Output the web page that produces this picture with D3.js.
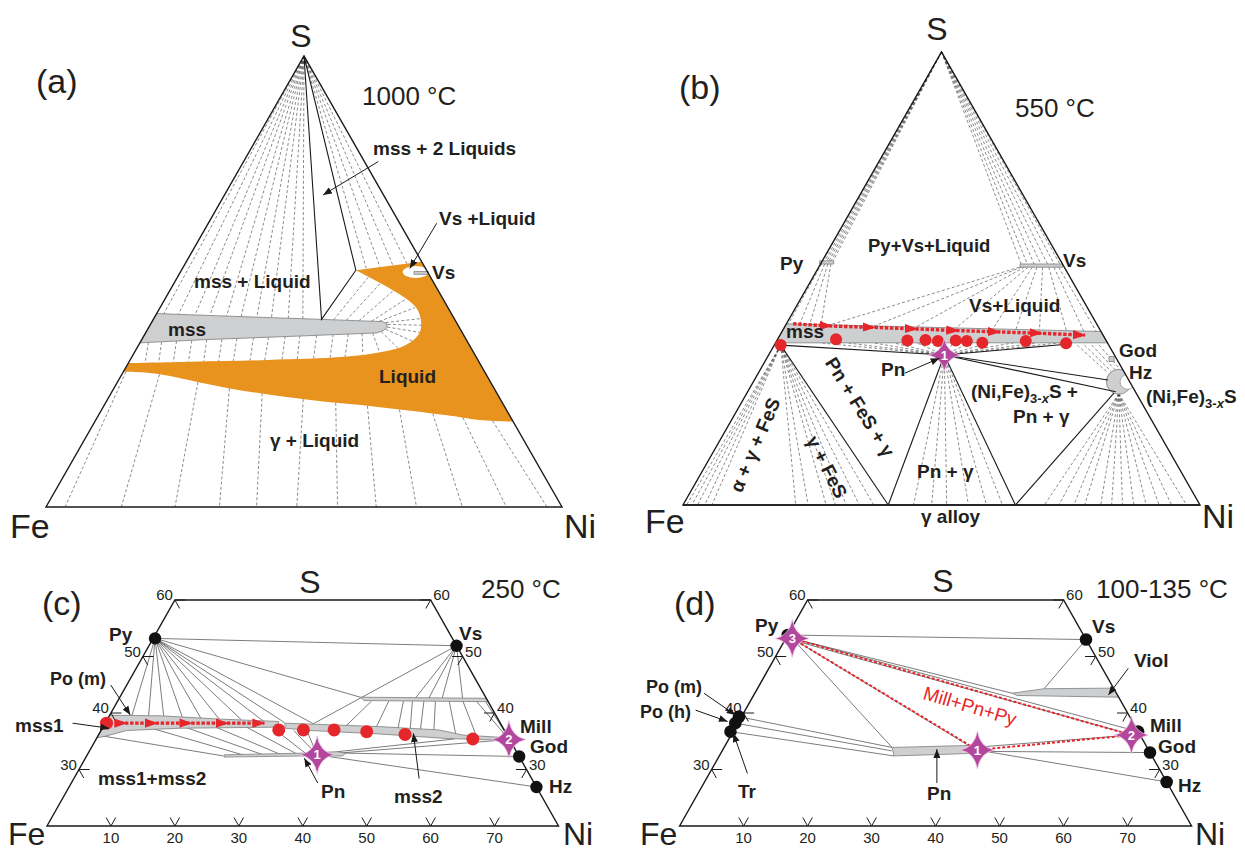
<!DOCTYPE html>
<html>
<head>
<meta charset="utf-8">
<title>Fe–Ni–S phase relations</title>
<script src="https://cdn.jsdelivr.net/npm/d3@7/dist/d3.min.js"></script>
<style>
  html, body { margin: 0; padding: 0; background: #fff; }
  svg { display: block; font-family: "Liberation Sans", Arial, Helvetica, sans-serif; }
  .outline { fill: none; stroke: #1a1a1a; stroke-width: 1.4; }
  .dash { stroke: #3c3c3c; stroke-width: 0.6; stroke-dasharray: 3 2.2; fill: none; }
  .solid { stroke: #1a1a1a; stroke-width: 1.1; fill: none; }
  .tie { stroke: #505050; stroke-width: 0.75; }
  .band { fill: #cecfd1; stroke: #7d7d7d; stroke-width: 0.8; }
  .ann { stroke: #1a1a1a; stroke-width: 1; marker-end: url(#ah); }
  .tickmark { stroke: #1a1a1a; stroke-width: 1; fill: none; }
  .lbl { font-weight: 700; font-size: 19px; fill: #231f20; }
  .corner { font-size: 34px; fill: #231f20; }
  .ptag { font-size: 34px; fill: #231f20; }
  .temp { font-size: 26px; fill: #231f20; }
  .ticklbl { font-size: 15px; fill: #231f20; }
</style>
</head>
<body>
<svg id="fig" width="1245" height="853" viewBox="0 0 1245 853"></svg>
<script>
// All compositions are [Ni at.%, S at.%]; Fe is the remainder.

// ---------------- (a) 1000 °C ----------------
const aMss = [[0,42.9],[12,42.4],[32.6,41.6],[44.7,41.1],[45.8,40.6],[46.2,39.8],[45.8,39.1],[44.8,38.6],[30,37.9],[12,37.1],[0,36.4]];
const aLiquidTop = [[33.8,52.5],[45.5,54.4]];
const aLiquidOuter = [[81.1,18.9],[74.3,19.3],[67.2,20.4],[53.2,22.2],[39.4,23.7],[22.4,26.3],[6.3,29.6],[0,30.0]];
const aLiquidInner = [[0,31.9],[12.1,32.2],[26.7,32.6],[41.2,33.3],[48.1,34.4],[51.8,35.9],[53.1,38.5],[51.9,41.5],[49.4,44.4],[44.5,47.4],[38.6,50.3],[33.8,52.5]];
const aVsField = [45.6,52.1];
const aVsBar = [[45.2,52.2],[48.0,52.2],[48.3,51.6],[45.5,51.6]];
const aThreePhase = [[0,100],[32.6,41.6],[33.8,52.5]];
const aApexToMss = [[1.4,42.8],[4.3,42.7],[7.6,42.6],[10.5,42.5],[13.8,42.4],[16.7,42.2],[19.8,42.1],[22.7,42.0],[26.0,41.9],[28.9,41.75]];
const aApexToLiquid = [[35.7,52.8],[38.2,53.1],[40.6,53.4],[43.0,53.9]];
// liquid [Ni, S] -> gamma alloy Ni on the Fe–Ni join
const aLiquidToAlloy = [[0.5,30.0,3.7],[7.3,29.4,14.6],[15.6,27.7,25.0],[22.4,26.3,33.6],[29.3,25.2,40.8],[37.9,23.9,48.6],[44.6,23.1,56.5],[51.1,22.4,64.0],[57.7,21.6,71.8],[64.6,20.7,80.7],[70.9,19.8,89.2],[77.0,19.1,97.1]];
const aMssToLiquid = [
  [[1.6,36.5],[3.2,32.0]],[[4.1,36.6],[5.8,32.1]],[[6.9,36.8],[8.6,32.1]],[[9.8,36.9],[11.5,32.2]],
  [[12.6,37.1],[14.4,32.3]],[[15.5,37.2],[17.3,32.3]],[[18.3,37.4],[20.1,32.4]],[[21.4,37.6],[23.3,32.5]],
  [[24.3,37.7],[26.1,32.6]],[[27.4,37.9],[29.4,32.7]],[[30.2,38.0],[32.3,32.8]],[[33.4,38.1],[35.4,32.9]],
  [[36.5,38.3],[38.5,33.1]],[[39.4,38.35],[41.3,33.3]],
  [[42.0,38.5],[44.5,33.8]],[[44.0,38.6],[47.5,34.3]],[[45.5,38.9],[50.5,35.3]],[[46.1,39.4],[52.6,36.8]],
  [[46.2,39.9],[53.1,38.7]],[[46.0,40.5],[52.6,40.3]],[[45.4,40.9],[51.9,41.8]],
  [[35.0,41.5],[37.0,51.0]],[[37.5,41.4],[40.0,49.6]],[[40.0,41.3],[43.3,47.9]],[[42.5,41.2],[46.6,46.0]],[[44.0,41.15],[49.4,44.2]]
];
const aPointers = [[[26.1,76.6],[19.1,69.2]],[[44.25,62.9],[44.05,52.9]]];

// ---------------- (b) 550 °C ----------------
const bMss = [[0,40.0],[61.7,38.3],[64.2,35.8],[0,35.8]];
const bPy = [[-0.5,53.9],[2.2,53.9],[2.55,53.2],[-0.15,53.2]];
const bVs = [[38.6,53.2],[46.8,53.2],[47.15,52.5],[38.95,52.5]];
const bGod = [66.8,32.2];
const bCrescent = [70.7,27.2];
const bCrescentHole = [72.4,27.2];
const bFeS = [1.25,35.3];
const bPn = [34.0,33.1];
const bMssDots = [[1.25,35.3],[11.3,36.6],[25.25,36.3],[28.7,36.4],[31.2,36.2],[34.6,36.3],[36.8,36.2],[40.0,35.8],[48.2,36.2],[56.25,35.7]];
const bMssTrend = [[1.3,40.0],[9.0,39.5],[17.5,39.2],[25.8,38.85],[34.0,38.5],[42.2,38.2],[50.45,37.9],[59.0,37.5]];
const bBoundaries = [
  [[1.25,35.3],[34.0,33.1]],[[1.25,35.3],[39.7,0]],[[34.0,33.1],[39.7,0]],[[34.0,33.1],[64.3,0]],
  [[34.0,33.1],[56.4,35.5]],[[34.0,33.1],[68.4,27.6]],[[34.0,33.1],[71.2,25.0]],[[64.3,0],[71.0,24.7]]
];
const bFeSToAlloy = [0.7,1.7,2.8,4.2,5.6,21.8,24.2,27.7,29.5,31.6,34.1,36.9];
const bPnToAlloy = [44.6,48.1,51.0,55.2,58.7,61.8];
const bPnToMss = [[8.6,35.8],[13.8,35.8],[18.9,35.8],[22.8,35.8],[27.3,35.8],[31.2,35.8],[34.4,35.8],[37.6,35.8],[41.5,35.8],[46.0,35.8],[50.5,35.8],[55.0,35.8]];
const bCrescentToAlloy = [69.9,72.7,75.6,77.7,80.8,82.9,85.0,87.2,89.6,92.1,94.5,97.4];
const bCrescentFoot = [72.0,24.6];
const bApexToPy = [[0.1,53.9],[0.5,53.9],[0.9,53.9],[1.3,53.9],[1.7,53.9],[2.1,53.9]];
const bApexToVs = [[38.8,53.2],[40.0,53.2],[41.3,53.2],[42.6,53.2],[43.9,53.2],[45.2,53.2],[46.3,53.2]];
const bPyToMss = [[[0.2,53.2],[0.4,39.9]],[[0.8,53.2],[2.6,39.9]],[[1.4,53.2],[4.6,39.8]],[[2.0,53.2],[6.8,39.8]]];
const bVsToMss = [
  [[38.8,52.5],[8.6,39.8]],[[39.2,52.5],[17.2,39.5]],[[39.8,52.5],[25.45,39.3]],[[40.5,52.5],[33.3,39.1]],
  [[41.3,52.5],[40.5,38.9]],[[42.2,52.5],[45.0,38.8]],[[43.3,52.5],[49.65,38.6]],[[44.5,52.5],[54.9,38.5]],
  [[45.5,52.5],[58.3,38.4]],[[46.4,52.5],[60.8,38.3]]
];
const bMssToCrescent = [[[58.6,35.3],[67.7,29.1]],[[60.0,35.3],[68.2,29.4]],[[61.4,35.3],[68.75,29.8]],[[62.85,35.3],[69.25,30.2]]];
const bPointers = [[[28.35,29.1],[33.4,32.4]]];

// ---------------- (c) 250 °C ----------------
const cNiTicks = [10,20,30,40,50,60,70];
const cSTicks = [30,40,50,60];
const cMss1 = [[0,39.6],[8,39.5],[18,38.9],[27,38.5],[27.2,37.5],[12,37.3],[4,36.9],[1.2,35.9],[0,35.6]];
const cMss2 = [[28.1,38.2],[43.0,37.6],[52.8,37.0],[57.0,36.1],[63.0,35.7],[63.2,35.2],[54.6,35.5],[43.7,36.3],[32.8,36.9],[28.6,37.3]];
const cPnBand = [[21.4,32.6],[33.9,32.9],[38.8,33.15],[40.3,32.9],[40.0,32.4],[33.9,32.4],[21.6,32.2]];
const cVsBand = [[37.6,42.8],[57.4,42.6],[58.0,42.0],[38.5,42.2]];
const cMinerals = [[0.3,53.2],[48.1,51.9],[64.2,35.8],[67.7,32.3],[73.1,26.9]]; // Py, Vs, Mill, God, Hz
const cMssDots = [[0.2,38.2],[27.75,37.0],[31.6,37.0],[36.4,37.0],[41.65,36.7],[47.9,36.2],[58.9,35.4]];
const cMssTrend = [[1.5,38.2],[3.3,38.2],[8.1,38.2],[13.5,38.2],[19.2,38.2],[24.9,38.2]];
const cStars = [[35.95,32.6,"1"],[64.6,35.3,"2"]];
const cTies = [
  [[0.3,53.2],[48.1,51.9]],[[0.3,53.2],[37.6,42.8]],
  [[0.3,53.2],[3.5,39.6]],[[0.3,53.2],[6.1,39.6]],[[0.3,53.2],[8.5,39.5]],[[0.3,53.2],[11.5,39.3]],
  [[0.3,53.2],[14.5,39.1]],[[0.3,53.2],[17.5,38.9]],[[0.3,53.2],[21.0,38.8]],[[0.3,53.2],[24.5,38.6]],
  [[0.3,53.2],[28.0,38.3]],[[0.3,53.2],[32.6,38.1]],
  [[48.1,51.9],[32.6,38.1]],[[48.1,51.9],[46.3,42.6]],[[48.1,51.9],[48.4,42.6]],[[48.1,51.9],[50.5,42.6]],[[48.1,51.9],[53.7,42.6]],
  [[39.7,42.1],[37.9,37.7]],[[42.4,42.1],[42.75,37.5]],[[44.7,42.1],[46.25,37.3]],[[46.1,42.1],[48.25,37.1]],
  [[47.9,42.1],[49.9,37.0]],[[49.7,42.1],[52.1,36.8]],[[51.85,42.1],[55.7,36.4]],[[54.0,42.1],[59.05,36.1]],
  [[56.1,42.1],[64.0,35.8]],[[57.5,42.1],[64.4,35.6]],
  [[0.9,35.9],[21.4,32.4]],[[7.7,37.3],[24.3,32.6]],[[12.85,37.5],[27.5,32.6]],[[17.65,37.5],[30.1,32.7]],
  [[22.45,37.5],[32.7,32.75]],[[26.75,37.3],[33.95,32.9]],
  [[30.15,36.9],[35.95,32.6]],[[32.35,36.7],[35.95,32.6]],
  [[38.8,33.15],[56.0,35.4]],[[35.95,32.6],[64.6,35.3]],[[40.3,32.9],[67.7,32.3]],[[35.95,32.6],[73.1,26.9]]
];
const cPointers = [[[-2.5,44.95],[3.2,39.65]],[[-5.1,38.2],[1.05,37.3]],[[38.55,27.6],[34.25,32.0]],[[54.0,28.4],[49.1,36.4]]];

// ---------------- (d) 100-135 °C ----------------
const dNiTicks = [10,20,30,40,50,60,70];
const dSTicks = [30,40,50,60];
const dMinerals = [[0,53.8],[47.0,53.0],[63.3,36.7],[67.0,33.0],[72.2,27.8],[-0.4,39.35],[-0.4,38.2],[-0.4,36.7]]; // Py, Vs, Mill, God, Hz, Po(m), Po(h), Tr
const dViol = [[40.2,43.5],[44.8,44.3],[55.6,44.4],[57.2,42.8],[41.2,43.1]];
const dPnBand = [[26.25,33.9],[36.15,34.2],[40.05,34.3],[40.75,32.9],[27.3,32.4]];
const dStars = [[1.0,53.2,"3"],[62.55,36.1,"2"],[39.8,33.45,"1"]];
const dAssemblage = [[[1.0,53.2],[62.55,36.1]],[[1.0,53.2],[39.8,33.45]],[[39.8,33.45],[62.55,36.1]]];
const dTies = [
  [[0,53.8],[47.0,53.0]],[[1.0,53.2],[40.2,43.5]],[[1.0,53.2],[63.3,36.7]],[[1.2,52.9],[62.0,36.3]],
  [[47.0,53.0],[44.8,44.3]],
  [[-0.4,39.35],[26.25,33.9]],[[-0.4,38.2],[26.5,33.3]],[[-0.4,36.7],[27.3,32.4]],
  [[40.75,33.2],[67.0,33.0]],[[39.8,33.45],[72.2,27.8]],[[40.05,34.0],[62.55,36.1]],
  [[1.0,53.2],[38.5,34.0]],[[1.0,53.2],[26.25,33.9]]
];
const dPointers = [[[-7.95,43.5],[-1.1,39.65]],[[-7.75,40.5],[-1.75,38.5]],[[5.95,29.3],[0.2,36.4]],[[36.4,27.6],[33.4,33.6]],[[56.15,47.9],[55.4,43.2]]];

// ---------------- colours ----------------
const ORANGE = "#e9931f", RED = "#e5262a", MAGENTA = "#b3479d", GREY = "#cecfd1";

// ---------------- ternary frames ----------------
function ternary(uDom, xRange, sDom, yRange) {
  const xs = d3.scaleLinear().domain(uDom).range(xRange);
  const ys = d3.scaleLinear().domain(sDom).range(yRange);
  return { xs, ys, p: d => [xs(d[0] + d[1] / 2), ys(d[1])] };
}
const TA = ternary([0,100],[46,562],[0,100],[507,56]);
const TB = ternary([0,100],[683,1200],[0,100],[505,52]);
const TC = ternary([10,90],[47,558.5],[20,60],[826,600]);
const TD = ternary([10,90],[679.6,1191.6],[20,60],[826,600]);

const svg = d3.select("#fig");
const defs = svg.append("defs");
defs.append("marker").attr("id","ah").attr("viewBox","0 -4 10 8").attr("refX",10).attr("refY",0)
  .attr("markerUnits","userSpaceOnUse").attr("markerWidth",9).attr("markerHeight",7).attr("orient","auto")
  .append("path").attr("d","M0,-4L10,0L0,4Z").attr("fill","#1a1a1a");
defs.append("marker").attr("id","rah").attr("viewBox","0 -5 13 10").attr("refX",12).attr("refY",0)
  .attr("markerUnits","userSpaceOnUse").attr("markerWidth",13).attr("markerHeight",10).attr("orient","auto")
  .append("path").attr("d","M0,-4.6L13,0L0,4.6Z").attr("fill",RED);

const lineOf = T => d3.line().x(d => T.p(d)[0]).y(d => T.p(d)[1]);

function segs(g, T, list, cls) {
  return g.append("g").selectAll("line").data(list).join("line")
    .attr("class", cls)
    .attr("x1", d => T.p(d[0])[0]).attr("y1", d => T.p(d[0])[1])
    .attr("x2", d => T.p(d[1])[0]).attr("y2", d => T.p(d[1])[1]);
}
function poly(g, T, pts, cls) {
  return g.append("path").attr("class", cls).attr("d", lineOf(T).curve(d3.curveLinearClosed)(pts));
}
function dots(g, T, pts, r, fill) {
  g.append("g").selectAll("circle").data(pts).join("circle")
    .attr("cx", d => T.p(d)[0]).attr("cy", d => T.p(d)[1]).attr("r", r).attr("fill", fill);
}
function stars(g, T, list, w, h) {
  const rx = w / 2, ry = h / 2, k = 2.8;
  const shape = `M0,${-ry}Q${k},${-k} ${rx},0Q${k},${k} 0,${ry}Q${-k},${k} ${-rx},0Q${-k},${-k} 0,${-ry}Z`;
  const s = g.append("g").selectAll("g").data(list).join("g")
    .attr("transform", d => `translate(${T.p(d)[0]},${T.p(d)[1]})`);
  s.append("path").attr("d", shape).attr("fill", MAGENTA).attr("stroke", "#ecc6e4").attr("stroke-width", 0.8);
  s.append("text").attr("y", 4.6).attr("text-anchor", "middle").attr("fill", "#fff")
    .style("font-size", "13px").style("font-weight", 700).text(d => d[2]);
}
function trend(g, T, pts) {
  g.append("path").attr("d", lineOf(T)(pts)).attr("fill", "none")
    .attr("stroke", RED).attr("stroke-width", 3.4).attr("stroke-dasharray", "3.4 1.7")
    .attr("marker-mid", "url(#rah)").attr("marker-end", "url(#rah)");
}
function text(g, x, y, str, cls, opt = {}) {
  const t = g.append("text").attr("x", x).attr("y", y).attr("class", cls).text(str);
  if (opt.anchor) t.attr("text-anchor", opt.anchor);
  if (opt.rotate !== undefined) t.attr("transform", `rotate(${opt.rotate},${x},${y})`).attr("dy", "0.35em");
  if (opt.size) t.style("font-size", opt.size + "px");
  if (opt.fill) t.style("fill", opt.fill);
  if (opt.weight) t.style("font-weight", opt.weight);
  return t;
}
function nife(g, x, y, tail) {
  const t = g.append("text").attr("x", x).attr("y", y).attr("class", "lbl");
  t.append("tspan").text("(Ni,Fe)");
  t.append("tspan").attr("dy", 5).style("font-size", "13px").text("3-");
  t.append("tspan").style("font-size", "13px").style("font-style", "italic").text("x");
  t.append("tspan").attr("dy", -5).text("S" + tail);
}
function ticks(g, T, niTicks, sTicks) {
  const L = 1.5, list = [];
  niTicks.forEach(n => { list.push([[n,20],[n - L,20 + L]]); list.push([[n,20],[n,20 + L]]); });
  sTicks.forEach(s => {
    list.push([[0,s],[1.65,s]]); list.push([[0,s],[L,s - L]]);
    list.push([[100 - s,s],[100 - s - 1.65,s]]); list.push([[100 - s,s],[100 - s,s - L]]);
  });
  segs(g, T, list, "tickmark");
  g.append("g").selectAll("text").data(niTicks).join("text").attr("class", "ticklbl")
    .attr("text-anchor", "middle").attr("x", n => T.p([n,20])[0]).attr("y", T.ys(20) + 17).text(n => n);
  g.append("g").selectAll("text").data(sTicks).join("text").attr("class", "ticklbl")
    .attr("text-anchor", "end").attr("x", s => T.p([0,s])[0] - 2).attr("y", s => T.ys(s)).text(s => s);
  g.append("g").selectAll("text").data(sTicks).join("text").attr("class", "ticklbl")
    .attr("x", s => T.p([100 - s,s])[0] + 2.5).attr("y", s => T.ys(s)).text(s => s);
}

// ================= (a) =================
{
  const T = TA, g = svg.append("g");
  segs(g, T, aApexToMss.map(d => [[0,100], d]), "dash");
  segs(g, T, aApexToLiquid.map(d => [[0,100], d]), "dash");
  segs(g, T, aLiquidToAlloy.map(d => [[d[0], d[1]], [d[2], 0]]), "dash");
  segs(g, T, aMssToLiquid, "dash");

  const smooth = lineOf(T).curve(d3.curveCatmullRom.alpha(0.5));
  const liq = lineOf(T)([aLiquidTop[0], aLiquidTop[1], aLiquidOuter[0]])
    + smooth(aLiquidOuter).replace(/^M/, "L")
    + smooth(aLiquidInner).replace(/^M/, "L") + "Z";
  g.append("path").attr("d", liq).attr("fill", ORANGE);
  const vs = T.p(aVsField);
  g.append("ellipse").attr("cx", vs[0]).attr("cy", vs[1]).attr("rx", 13).attr("ry", 6).attr("fill", "#fff");
  poly(g, T, aVsBar, "band");
  poly(g, T, aMss, "band").attr("stroke-width", 0.6);
  poly(g, T, aThreePhase, "solid");
  poly(g, T, [[0,0],[100,0],[0,100]], "outline");
  segs(g, T, aPointers, "ann");

  text(g, 301, 47, "S", "corner", {anchor: "middle", size: 32});
  text(g, 36, 93, "(a)", "ptag");
  text(g, 362, 105, "1000 °C", "temp");
  text(g, 373, 155, "mss + 2 Liquids", "lbl");
  text(g, 439, 225, "Vs +Liquid", "lbl");
  text(g, 432, 279, "Vs", "lbl");
  text(g, 194, 288, "mss + Liquid", "lbl");
  text(g, 168, 336, "mss", "lbl");
  text(g, 379, 383, "Liquid", "lbl");
  text(g, 270, 447, "γ  + Liquid", "lbl");
  text(g, 10, 538, "Fe", "corner");
  text(g, 564, 538, "Ni", "corner");
}

// ================= (b) =================
{
  const T = TB, g = svg.append("g");
  const clipId = "clipB";
  g.append("clipPath").attr("id", clipId).append("path")
    .attr("d", lineOf(T).curve(d3.curveLinearClosed)([[0,0],[100,0],[0,100]]));

  segs(g, T, bApexToPy.map(d => [[0,100], d]), "dash");
  segs(g, T, bApexToVs.map(d => [[0,100], d]), "dash");
  segs(g, T, bPyToMss, "dash");
  segs(g, T, bVsToMss, "dash");
  segs(g, T, bFeSToAlloy.map(n => [bFeS, [n,0]]), "dash");
  segs(g, T, bPnToAlloy.map(n => [bPn, [n,0]]), "dash");
  segs(g, T, bPnToMss.map(d => [bPn, d]), "dash");
  segs(g, T, bCrescentToAlloy.map(n => [bCrescentFoot, [n,0]]), "dash");
  segs(g, T, bMssToCrescent, "dash");

  poly(g, T, bMss, "band");
  poly(g, T, bPy, "band");
  poly(g, T, bVs, "band");
  const gd = T.p(bGod);
  g.append("rect").attr("x", gd[0] - 2.5).attr("y", gd[1] - 2.5).attr("width", 5).attr("height", 5).attr("class", "band");
  const cr = g.append("g").attr("clip-path", `url(#${clipId})`);
  const c0 = T.p(bCrescent), c1 = T.p(bCrescentHole);
  cr.append("circle").attr("cx", c0[0]).attr("cy", c0[1]).attr("r", 12.5).attr("fill", GREY).attr("stroke", "#7d7d7d").attr("stroke-width", 0.8);
  cr.append("circle").attr("cx", c1[0]).attr("cy", c1[1]).attr("r", 7.5).attr("fill", "#fff").attr("stroke", "#7d7d7d").attr("stroke-width", 0.6);

  segs(g, T, bBoundaries, "solid");
  poly(g, T, [[0,0],[100,0],[0,100]], "outline");
  segs(g, T, [[[0,0],[100,0]]], "outline").attr("stroke-width", 3.2);

  dots(g, T, bMssDots, 6, RED);
  trend(g, T, bMssTrend);
  stars(g, T, [[bPn[0], bPn[1], "1"]], 32, 32);
  segs(g, T, bPointers, "ann");

  text(g, 937, 40, "S", "corner", {anchor: "middle", size: 32});
  text(g, 679, 99, "(b)", "ptag");
  text(g, 1015, 117, "550 °C", "temp");
  text(g, 868, 252, "Py+Vs+Liquid", "lbl", {size: 18.5});
  text(g, 780, 270, "Py", "lbl");
  text(g, 1063, 267, "Vs", "lbl");
  text(g, 969, 312, "Vs+Liquid", "lbl");
  text(g, 786, 338, "mss", "lbl");
  text(g, 881, 376, "Pn", "lbl");
  text(g, 1119, 357, "God", "lbl");
  text(g, 1129, 379, "Hz", "lbl");
  nife(g, 1146, 403, "");
  nife(g, 971, 398, "  +");
  text(g, 1013, 423, "Pn + γ", "lbl");
  text(g, 860, 407, "Pn + FeS + γ", "lbl", {anchor: "middle", rotate: 58});
  text(g, 755, 445, "α + γ + FeS", "lbl", {anchor: "middle", rotate: -67});
  text(g, 827, 467, "γ + FeS", "lbl", {anchor: "middle", rotate: 63});
  text(g, 917, 478, "Pn + γ", "lbl");
  text(g, 921, 523, "γ alloy", "lbl");
  text(g, 645, 533, "Fe", "corner");
  text(g, 1202, 528, "Ni", "corner");
}

// ================= (c) =================
{
  const T = TC, g = svg.append("g");
  segs(g, T, cTies, "tie");
  poly(g, T, cVsBand, "band");
  poly(g, T, cMss1, "band");
  poly(g, T, cMss2, "band");
  poly(g, T, cPnBand, "band");
  poly(g, T, [[0,20],[80,20],[40,60],[0,60]], "outline").attr("stroke-width", 1.6);
  ticks(g, T, cNiTicks, cSTicks);
  trend(g, T, cMssTrend);
  dots(g, T, cMssDots, 6.5, RED);
  dots(g, T, cMinerals, 6.2, "#111");
  stars(g, T, cStars, 34, 38);
  segs(g, T, cPointers, "ann");

  text(g, 310, 593, "S", "corner", {anchor: "middle", size: 32});
  text(g, 42, 615, "(c)", "ptag");
  text(g, 481, 598, "250 °C", "temp");
  text(g, 109, 641, "Py", "lbl");
  text(g, 459, 640, "Vs", "lbl");
  text(g, 50, 685, "Po (m)", "lbl", {size: 18});
  text(g, 15, 732, "mss1", "lbl");
  text(g, 98, 785, "mss1+mss2", "lbl");
  text(g, 321, 798, "Pn", "lbl");
  text(g, 394, 803, "mss2", "lbl");
  text(g, 520, 733, "Mill", "lbl");
  text(g, 530, 753, "God", "lbl");
  text(g, 549, 793, "Hz", "lbl");
  text(g, 8, 845, "Fe", "corner", {size: 32});
  text(g, 563, 845, "Ni", "corner", {size: 32});
}

// ================= (d) =================
{
  const T = TD, g = svg.append("g");
  segs(g, T, dTies, "tie");
  poly(g, T, dViol, "band");
  poly(g, T, dPnBand, "band");
  poly(g, T, [[0,20],[80,20],[40,60],[0,60]], "outline").attr("stroke-width", 1.6);
  ticks(g, T, dNiTicks, dSTicks);
  g.append("g").selectAll("line").data(dAssemblage).join("line")
    .attr("x1", d => T.p(d[0])[0]).attr("y1", d => T.p(d[0])[1])
    .attr("x2", d => T.p(d[1])[0]).attr("y2", d => T.p(d[1])[1])
    .attr("stroke", RED).attr("stroke-width", 2).attr("stroke-dasharray", "3 2");
  dots(g, T, dMinerals, 6.3, "#111");
  stars(g, T, dStars, 34, 38);
  segs(g, T, dPointers, "ann");

  text(g, 943, 592, "S", "corner", {anchor: "middle", size: 32});
  text(g, 674, 615, "(d)", "ptag");
  text(g, 1096, 598, "100-135 °C", "temp");
  text(g, 755, 632, "Py", "lbl");
  text(g, 1092, 633, "Vs", "lbl");
  text(g, 1134, 667, "Viol", "lbl");
  text(g, 1150, 732, "Mill", "lbl");
  text(g, 1158, 753, "God", "lbl");
  text(g, 1178, 792, "Hz", "lbl");
  text(g, 646, 693, "Po (m)", "lbl", {size: 18});
  text(g, 640, 718, "Po (h)", "lbl", {size: 18});
  text(g, 738, 798, "Tr", "lbl");
  text(g, 927, 800, "Pn", "lbl");
  text(g, 970, 706, "Mill+Pn+Py", "lbl", {anchor: "middle", rotate: 16.5, fill: RED, weight: 400});
  text(g, 640, 845, "Fe", "corner", {size: 32});
  text(g, 1195, 845, "Ni", "corner", {size: 32});
}
</script>
</body>
</html>
